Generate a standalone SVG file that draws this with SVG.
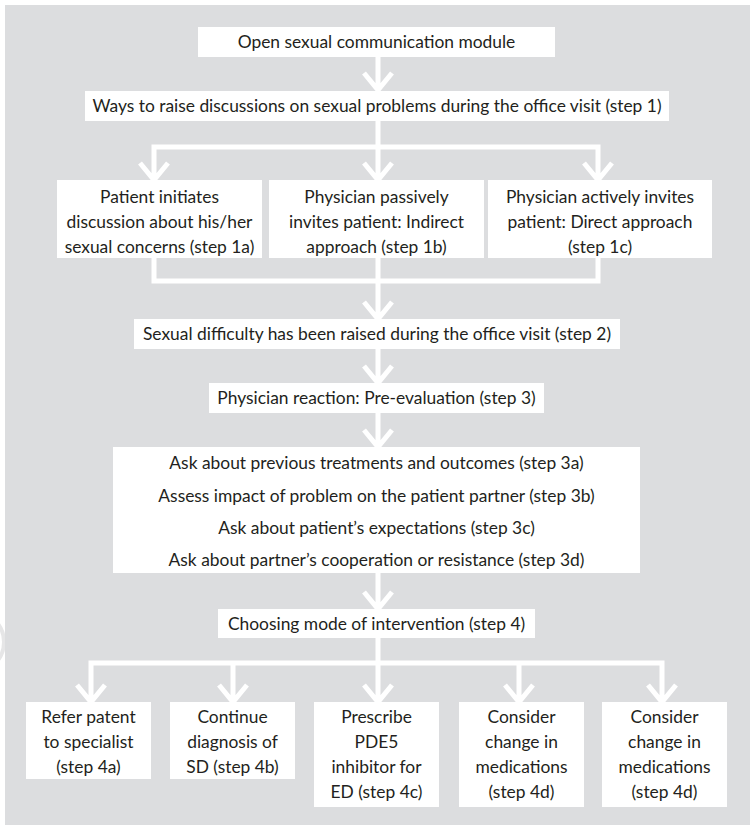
<svg xmlns="http://www.w3.org/2000/svg" width="750" height="825" viewBox="0 0 750 825">
<defs>
<style>
.panel{fill:#dcdddf}
.box{fill:#ffffff}
.t{font-family:Lato,"Liberation Sans",sans-serif;font-size:17.4px;fill:#231f20;text-anchor:middle}
.ln{fill:none;stroke:#ffffff;stroke-width:5;stroke-linejoin:miter;stroke-linecap:butt}
.wm{fill:none;stroke:#e6e6e7;stroke-width:4}
</style>
</defs>
<circle class="wm" cx="-26" cy="642" r="30"/>
<rect class="panel" x="5" y="5" width="745" height="820"/>

<g id="connectors">
<path class="ln" d="M378 57V90 M364 73L378 90L392 73"/>
<path class="ln" d="M378 121V147 M154 180V147H598V180 M378 147V180 M140 163L154 180L168 163 M364 163L378 180L392 163 M584 163L598 180L612 163"/>
<path class="ln" d="M154 258V281H598V258 M378 258V319 M364 302L378 319L392 302"/>
<path class="ln" d="M378 349V383 M364 366L378 383L392 366"/>
<path class="ln" d="M378 413V447 M364 430L378 447L392 430"/>
<path class="ln" d="M378 573V609 M364 592L378 609L392 592"/>
<path class="ln" d="M378 638V663 M91 702V663H662V702 M233 663V702 M378 663V702 M519 663V702 M77 685L91 702L105 685 M219 685L233 702L247 685 M364 685L378 702L392 685 M505 685L519 702L533 685 M648 685L662 702L676 685"/>
</g>

<g id="n0"><rect class="box" x="198" y="27" width="357" height="30"/>
<text class="t" x="376.5" y="48">Open sexual communication module</text></g>

<g id="n1"><rect class="box" x="85" y="91" width="584" height="30"/>
<text class="t" x="377" y="112">Ways to raise discussions on sexual problems during the office visit (step 1)</text></g>

<g id="n1a"><rect class="box" x="57" y="180" width="205" height="78"/>
<text class="t" x="159.5" y="203">Patient initiates</text>
<text class="t" x="159.5" y="228">discussion about his/her</text>
<text class="t" x="159.5" y="253">sexual concerns (step 1a)</text></g>

<g id="n1b"><rect class="box" x="269" y="180" width="215" height="78"/>
<text class="t" x="376.5" y="203">Physician passively</text>
<text class="t" x="376.5" y="228">invites patient: Indirect</text>
<text class="t" x="376.5" y="253">approach (step 1b)</text></g>

<g id="n1c"><rect class="box" x="488" y="180" width="224" height="78"/>
<text class="t" x="600" y="203">Physician actively invites</text>
<text class="t" x="600" y="228">patient: Direct approach</text>
<text class="t" x="600" y="253">(step 1c)</text></g>

<g id="n2"><rect class="box" x="134" y="319" width="486" height="30"/>
<text class="t" x="377" y="340">Sexual difficulty has been raised during the office visit (step 2)</text></g>

<g id="n3"><rect class="box" x="209" y="383" width="335" height="30"/>
<text class="t" x="376.5" y="404">Physician reaction: Pre-evaluation (step 3)</text></g>

<g id="n3x"><rect class="box" x="113" y="447" width="527" height="126"/>
<text class="t" x="376.5" y="469">Ask about previous treatments and outcomes (step 3a)</text>
<text class="t" x="376.5" y="501.5">Assess impact of problem on the patient partner (step 3b)</text>
<text class="t" x="376.5" y="534">Ask about patient’s expectations (step 3c)</text>
<text class="t" x="376.5" y="566">Ask about partner’s cooperation or resistance (step 3d)</text></g>

<g id="n4"><rect class="box" x="218" y="609" width="317" height="29"/>
<text class="t" x="376.5" y="629.5">Choosing mode of intervention (step 4)</text></g>

<g id="n4a"><rect class="box" x="26" y="702" width="125" height="77"/>
<text class="t" x="88.5" y="723">Refer patent</text>
<text class="t" x="88.5" y="748">to specialist</text>
<text class="t" x="88.5" y="773">(step 4a)</text></g>

<g id="n4b"><rect class="box" x="170" y="702" width="125" height="77"/>
<text class="t" x="232.5" y="723">Continue</text>
<text class="t" x="232.5" y="748">diagnosis of</text>
<text class="t" x="232.5" y="773">SD (step 4b)</text></g>

<g id="n4c"><rect class="box" x="314" y="702" width="125" height="105"/>
<text class="t" x="376.5" y="723">Prescribe</text>
<text class="t" x="376.5" y="748">PDE5</text>
<text class="t" x="376.5" y="773">inhibitor for</text>
<text class="t" x="376.5" y="798">ED (step 4c)</text></g>

<g id="n4d"><rect class="box" x="459" y="702" width="125" height="105"/>
<text class="t" x="521.5" y="723">Consider</text>
<text class="t" x="521.5" y="748">change in</text>
<text class="t" x="521.5" y="773">medications</text>
<text class="t" x="521.5" y="798">(step 4d)</text></g>

<g id="n4e"><rect class="box" x="602" y="702" width="125" height="105"/>
<text class="t" x="664.5" y="723">Consider</text>
<text class="t" x="664.5" y="748">change in</text>
<text class="t" x="664.5" y="773">medications</text>
<text class="t" x="664.5" y="798">(step 4d)</text></g>
</svg>
